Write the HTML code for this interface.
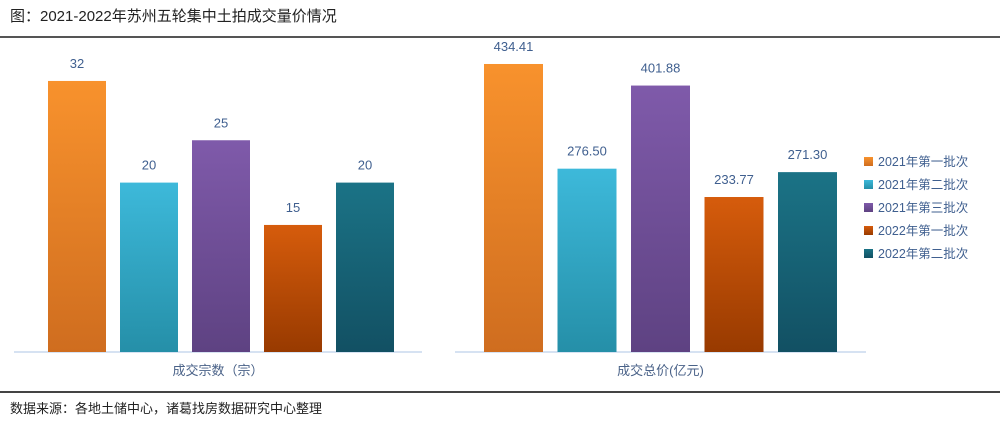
<!DOCTYPE html>
<html><head><meta charset="utf-8"><style>
body{margin:0;width:1000px;height:420px;background:#fff;overflow:hidden;font-family:"Liberation Sans","Noto Sans CJK SC",sans-serif;}
</style></head><body>
<svg width="1000" height="420" xmlns="http://www.w3.org/2000/svg">
<defs>
<linearGradient id="g0" x1="0" y1="0" x2="0" y2="1"><stop offset="0" stop-color="#F8922D"/><stop offset="1" stop-color="#CF6D1F"/></linearGradient>
<linearGradient id="g1" x1="0" y1="0" x2="0" y2="1"><stop offset="0" stop-color="#3DB9DA"/><stop offset="1" stop-color="#258FA8"/></linearGradient>
<linearGradient id="g2" x1="0" y1="0" x2="0" y2="1"><stop offset="0" stop-color="#7F5AAA"/><stop offset="1" stop-color="#5E4282"/></linearGradient>
<linearGradient id="g3" x1="0" y1="0" x2="0" y2="1"><stop offset="0" stop-color="#D65C0C"/><stop offset="1" stop-color="#983A00"/></linearGradient>
<linearGradient id="g4" x1="0" y1="0" x2="0" y2="1"><stop offset="0" stop-color="#1B7386"/><stop offset="1" stop-color="#125063"/></linearGradient>
</defs>
<text x="10" y="21" font-size="15" fill="#222">图：2021-2022年苏州五轮集中土拍成交量价情况</text>
<line x1="0" y1="37" x2="1000" y2="37" stroke="#555" stroke-width="2"/>
<line x1="0" y1="392" x2="1000" y2="392" stroke="#444" stroke-width="2"/>
<text x="10" y="413" font-size="13" fill="#222">数据来源：各地土储中心，诸葛找房数据研究中心整理</text>
<g id="left"></g>
<g id="right"></g>
<g id="legend"></g>
</svg>
<script>
const categories=["2021年第一批次","2021年第二批次","2021年第三批次","2022年第一批次","2022年第二批次"];
const countValues=[32,20,25,15,20];
const countLabels=["32","20","25","15","20"];
const priceValues=[434.41,276.50,401.88,233.77,271.30];
const priceLabels=["434.41","276.50","401.88","233.77","271.30"];
const NS="http://www.w3.org/2000/svg";
function mk(t,a,p){const e=document.createElementNS(NS,t);for(const k in a)e.setAttribute(k,a[k]);p.appendChild(e);return e;}
function drawChart(gid,vals,labels,x0,step,bw,base,pxPer,axX1,axX2,title,prefix){
  const g=document.getElementById(gid);
  const ax=mk('line',{x1:axX1,y1:base,x2:axX2,y2:base,stroke:'#C9D9EE','stroke-width':1.5},g);
  
  
  const y=v=>base-v*pxPer;
  vals.forEach((v,i)=>{
    const x=x0+i*step;
    const r=mk('rect',{x:x,y:y(v),width:bw,height:base-y(v),fill:'url(#g'+i+')'},g);
    
    
    const t=mk('text',{x:x+bw/2,y:y(v)-13,'text-anchor':'middle','font-size':13,fill:'#3F5F8F'},g);
    t.textContent=labels[i];
    
    
  });
  const tt=mk('text',{x:(axX1+axX2)/2,y:375,'text-anchor':'middle','font-size':13,fill:'#4A6288'},g);
  tt.textContent=title;
  
  
}
drawChart('left',countValues,countLabels,48,72,58,352,8.47,14,422,'成交宗数（宗）','count');
drawChart('right',priceValues,priceLabels,484,73.5,59,352,0.663,455,866,'成交总价(亿元)','price');
const lg=document.getElementById('legend');
categories.forEach((c,i)=>{
  const yy=165+i*23;
  const s=mk('rect',{x:864,y:yy-8,width:9,height:9,fill:'url(#g'+i+')'},lg);
  
  
  const t=mk('text',{x:878,y:yy+1,'font-size':12.5,fill:'#3F5F8F'},lg);
  t.textContent=c;
  
  
});
</script>
</body></html>
